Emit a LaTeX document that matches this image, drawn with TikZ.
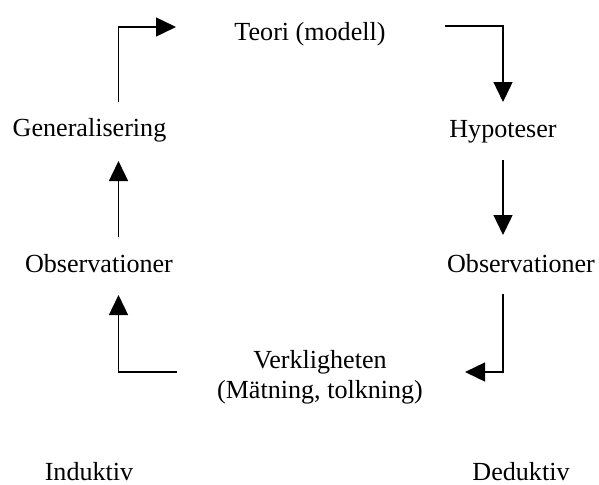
\documentclass[tikz,border=0pt]{standalone}
\usepackage{fontspec}
\setmainfont{Liberation Serif}
\usetikzlibrary{arrows.meta,positioning}

\tikzset{
  txt/.style={font=\fontsize{12}{14}\selectfont, inner sep=0pt, anchor=base},
  pil/.style={line width=0.8pt, -{Triangle[length=9.2pt,width=8.7pt]}}
}

\begin{document}
\begin{tikzpicture}[x=0.46pt, y=-0.46pt]
\useasboundingbox (0,0) rectangle (599,484);
%texter
  \node [txt] (teori) at (310,41) {Teori (modell)};
  \node [txt] (gen) at (89.5,136) {Generalisering};
  \node [txt] (hyp) at (503,137) {Hypoteser};
  \node [txt] (obsL) at (99,272) {Observationer};
  \node [txt] (obsR) at (521,272) {Observationer};
  \node [txt] (verk) at (320,368) {Verkligheten};
  \node [below=13.8pt of verk.base, txt] (mat) {(Mätning, tolkning)};
  \node [txt] (ind) at (89,480) {Induktiv};
  \node [txt] (ded) at (521,480) {Deduktiv};
%pilar
  \coordinate (g1) at (118.5,102);
  \coordinate (t1) at (176,27);
  \coordinate (t2) at (445,26);
  \coordinate (h1) at (503,102);
  \coordinate (h2) at (503,160);
  \coordinate (o1) at (503,235);
  \coordinate (o2) at (503,294);
  \coordinate (v1) at (465,372);
  \coordinate (v2) at (177,372);
  \coordinate (o3) at (118.5,295);
  \coordinate (o4) at (118.5,237);
  \coordinate (g2) at (118.5,161);
  \draw [pil] (g1) |- (t1);
  \draw [pil] (t2) -| (h1);
  \draw [pil] (h2) -- (o1);
  \draw [pil] (o2) |- (v1);
  \draw [pil] (v2) -| (o3);
  \draw [pil] (o4) -- (g2);
\end{tikzpicture}
\end{document}
